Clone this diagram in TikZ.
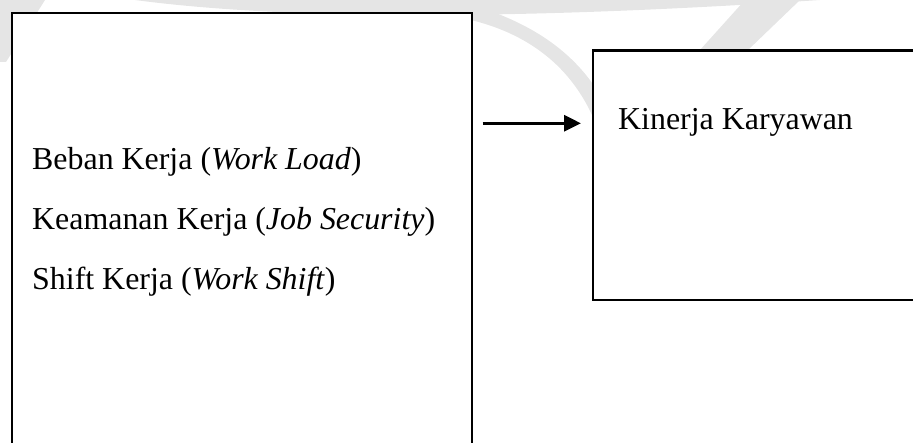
\documentclass[tikz,border=0pt]{standalone}
\usepackage{fontspec}
\setmainfont{Liberation Serif}
\usetikzlibrary{arrows.meta}
\begin{document}
\begin{tikzpicture}[x=1pt,y=-1pt,
  box/.style={draw=black,line width=2.3pt,fill=white,inner sep=0pt,anchor=north west},
  lbl/.style={anchor=base west,inner sep=0pt,font=\fontsize{31.9}{38}\selectfont},
  wm/.style={fill=gray!20,draw=none},
  conn/.style={line width=3pt,-{Triangle[length=17pt,width=16pt]}}]
\useasboundingbox (0,0) rectangle (913,443);
% faint watermark
\fill[wm] (135,0) .. controls (300,22) and (550,18) .. (820,0) -- cycle;
\fill[wm] (462,18) .. controls (530,32) and (578,70) .. (600,135) -- (600,95) .. controls (570,45) and (520,18) .. (462,2) -- cycle;
\fill[wm] (0,0) -- (45,0) -- (6,62) -- (0,62) -- cycle;
\fill[wm] (745,0) -- (800,0) -- (748,50) -- (700,50) -- cycle;
% boxes
\node[box,minimum width=459.5pt,minimum height=480pt] (L) at (11,12) {};
\node[box,minimum width=360pt,minimum height=249.5pt] (R) at (592,49.5) {};
% texts
\node[lbl] (t1) at (32,170) {Beban Kerja (\textit{Work Load})};
\node[lbl] (t2) at (32,230) {Keamanan Kerja (\textit{Job Security})};
\node[lbl] (t3) at (32,290) {Shift Kerja (\textit{Work Shift})};
\node[lbl] (k) at (618,130) {Kinerja Karyawan};
% connector
\coordinate (a) at (482.5,123.3);
\coordinate (b) at (581,123.3);
\draw[conn] (a) -- (b);
\end{tikzpicture}
\end{document}
